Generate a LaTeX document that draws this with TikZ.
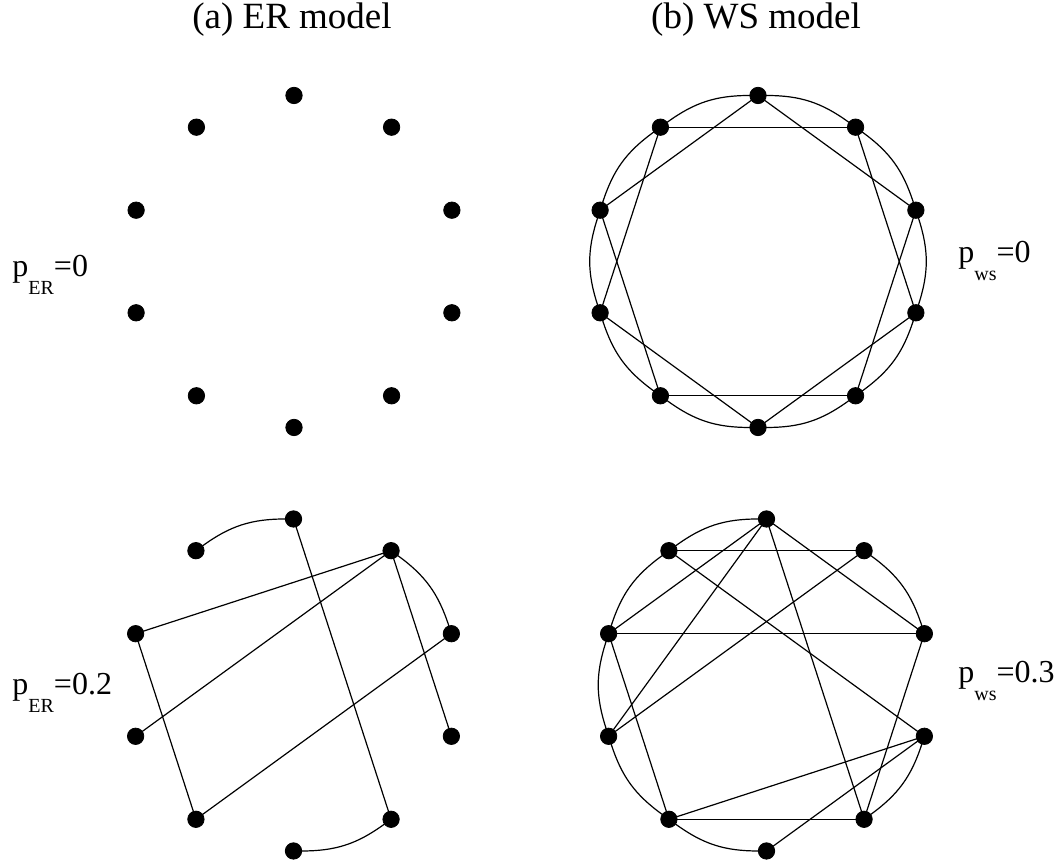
\documentclass[tikz,border=0pt]{standalone}
\usepackage{fontspec}
\setmainfont{Liberation Serif}
\usepackage{tikz}
\newcommand{\vertexsize}{8.2pt}
\newcommand{\ringradius}{166}
\tikzstyle{vertex}=[draw, fill, circle, inner sep=0, outer sep=0, minimum size=\vertexsize]
\tikzstyle{edge}=[line width=0.6pt]
\tikzstyle{ring}=[edge, bend left=18]
\tikzstyle{plabel}=[anchor=base west, inner sep=0, font=\fontsize{16}{16}\selectfont]
\tikzstyle{title}=[anchor=base, inner sep=0, font=\fontsize{18.5}{18.5}\selectfont]
\newcommand{\subp}[1]{\raisebox{-9pt}{\fontsize{10}{10}\selectfont #1}}

\begin{document}
\begin{tikzpicture}[x=0.5pt, y=0.5pt]
    \useasboundingbox (0,0) rectangle (1062,860);
    % titles
    \node[title] (ta) at (292,831) {(a) ER model};
    \node[title] (tb) at (756,831) {(b) WS model};
    % rewiring probabilities
    \node[plabel] (pEa) at (12,583) {p\subp{ER}=0};
    \node[plabel] (pEb) at (12,165) {p\subp{ER}=0.2};
    \node[plabel] (pWa) at (958,597) {p\subp{ws}=0};
    \node[plabel] (pWb) at (958,177) {p\subp{ws}=0.3};
    % vertices, ten on each ring
    \foreach \i in {0,...,9} {
        \node[vertex] (Ea\i) at ([shift={(90-36*\i:\ringradius)}] 294,598.5) {};
        \node[vertex] (Eb\i) at ([shift={(90-36*\i:\ringradius)}] 293.5,175) {};
        \node[vertex] (Wa\i) at ([shift={(90-36*\i:\ringradius)}] 758,598.5) {};
        \node[vertex] (Wb\i) at ([shift={(90-36*\i:\ringradius)}] 766.5,175) {};
    }
    % WS, p=0: regular ring lattice
    \foreach \i [evaluate=\i as \j using {int(mod(\i+1,10))},
                 evaluate=\i as \k using {int(mod(\i+2,10))}] in {0,...,9} {
        \draw[ring] (Wa\i) to (Wa\j);
        \draw[edge] (Wa\i) -- (Wa\k);
    }
    % ER, p=0.2
    \foreach \a/\b in {9/0, 1/2, 4/5}
        \draw[ring] (Eb\a) to (Eb\b);
    \foreach \a/\b in {0/4, 1/8, 1/7, 1/3, 2/6, 8/6}
        \draw[edge] (Eb\a) -- (Eb\b);
    % WS, p=0.3
    \foreach \a/\b in {9/0, 1/2, 3/4, 5/6, 6/7, 7/8, 8/9}
        \draw[ring] (Wb\a) to (Wb\b);
    \foreach \a/\b in {9/1, 8/2, 6/4, 0/8, 0/7, 0/2, 0/4, 9/3, 1/7, 8/6, 2/4, 3/6, 3/5}
        \draw[edge] (Wb\a) -- (Wb\b);
\end{tikzpicture}
\end{document}
